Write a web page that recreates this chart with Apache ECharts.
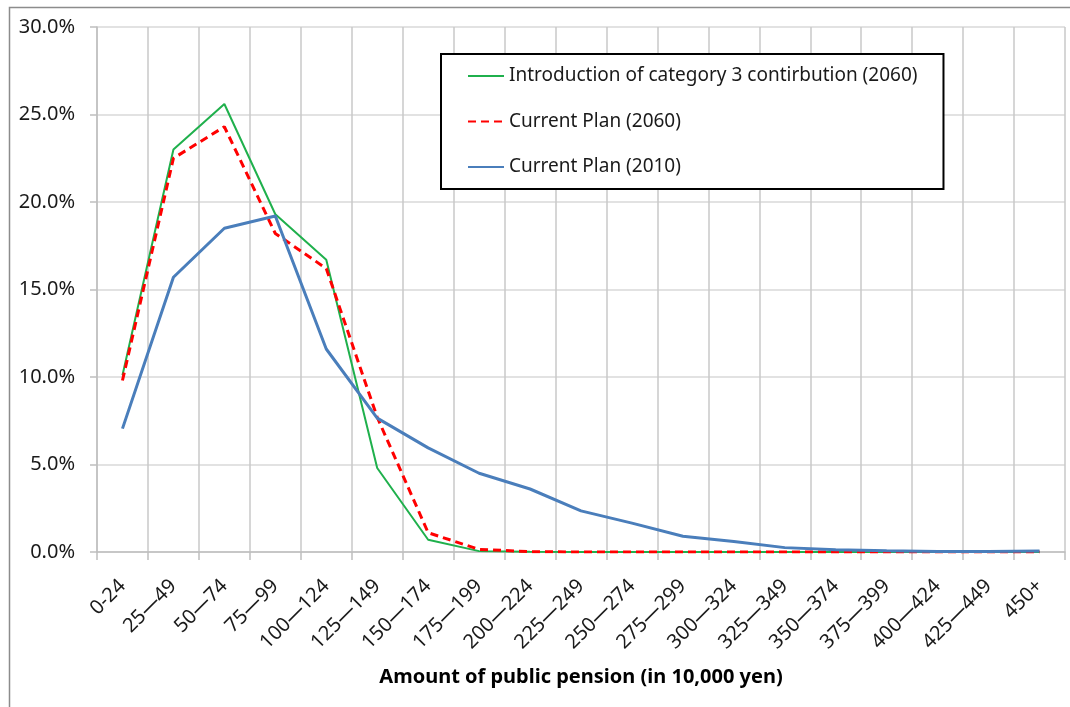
<!DOCTYPE html>
<html>
<head>
<meta charset="utf-8">
<script src="https://cdn.jsdelivr.net/npm/echarts@6/dist/echarts.min.js"></script>
<style>
html,body{margin:0;padding:0;background:#fff;}
#chart{width:1070px;height:707px;}
</style>
</head>
<body>
<div id="chart"></div>
<script>
const categories = ['0-24','25―49','50―74','75―99','100―124','125―149','150―174','175―199','200―224','225―249','250―274','275―299','300―324','325―349','350―374','375―399','400―424','425―449','450+'];
const seriesNames = ['Introduction of category 3 contirbution (2060)','Current Plan (2060)','Current Plan (2010)'];
const category3_2060 = [10.1, 23.0, 25.6, 19.3, 16.7, 4.8, 0.7, 0.05, 0.01, 0, 0, 0, 0, 0, 0, 0, 0, 0, 0];
const currentPlan2060 = [9.8, 22.5, 24.3, 18.2, 16.2, 7.7, 1.1, 0.15, 0.02, 0, 0, 0, 0, 0, 0, 0, 0, 0, 0];
const currentPlan2010 = [7.05, 15.7, 18.5, 19.2, 11.6, 7.65, 5.95, 4.5, 3.6, 2.35, 1.65, 0.9, 0.6, 0.25, 0.13, 0.07, 0.03, 0.03, 0.06];
const yTicks = {min: 0, max: 30, interval: 5};

const FONT = 'Noto Sans';
const chart = echarts.init(document.getElementById('chart'), null, {renderer: 'canvas'});
chart.setOption({
  backgroundColor: '#ffffff',
  animation: false,
  graphic: [{
    type: 'rect', left: 7, top: 5,
    shape: {width: 1200, height: 900},
    style: {fill: 'none', stroke: '#8c8c8c', lineWidth: 1.5},
    silent: true, z: -10
  }],
  grid: {left: 97, right: 5, top: 27, bottom: 155, containLabel: false},
  legend: {
    orient: 'vertical',
    left: 441, top: 54,
    padding: [11.5, 26, 11.5, 26],
    borderColor: '#000', borderWidth: 2,
    backgroundColor: '#fff',
    itemWidth: 36, itemHeight: 14, itemGap: 24.5,
    itemStyle: {color: 'rgba(0,0,0,0)', borderColor: 'rgba(0,0,0,0)', borderWidth: 0},
    textStyle: {fontFamily: FONT, fontSize: 19, color: '#1a1a1a', lineHeight: 21},
    data: seriesNames
  },
  xAxis: {
    type: 'category',
    data: categories,
    boundaryGap: true,
    axisLine: {show: true, lineStyle: {color: '#bfbfbf', width: 1.5}},
    axisTick: {show: true, length: 8, inside: false, lineStyle: {color: '#bfbfbf', width: 1.5}},
    axisLabel: {rotate: 45, margin: 31, fontFamily: FONT, fontSize: 20, color: '#1a1a1a', interval: 0},
    splitLine: {show: true, lineStyle: {color: '#c8c8c8', width: 1.5}},
    name: 'Amount of public pension (in 10,000 yen)',
    nameLocation: 'middle',
    nameGap: 115,
    nameTextStyle: {fontFamily: FONT, fontSize: 20, fontWeight: 'bold', color: '#000'}
  },
  yAxis: {
    type: 'value',
    min: yTicks.min, max: yTicks.max, interval: yTicks.interval,
    axisLine: {show: true, lineStyle: {color: '#bfbfbf', width: 1.5}},
    axisTick: {show: true, length: 7, lineStyle: {color: '#bfbfbf', width: 1.5}},
    axisLabel: {margin: 22, fontFamily: FONT, fontSize: 20, color: '#1a1a1a', formatter: v => v.toFixed(1) + '%'},
    splitLine: {show: true, lineStyle: {color: '#d9d9d9', width: 1.5}}
  },
  series: [
    {name: seriesNames[0], type: 'line', data: category3_2060, symbol: 'none',
     lineStyle: {color: '#1fb04c', width: 2}, itemStyle: {color: '#1fb04c'}},
    {name: seriesNames[1], type: 'line', data: currentPlan2060, symbol: 'none',
     lineStyle: {color: '#ff0000', width: 3, type: [8, 5]}, itemStyle: {color: '#ff0000'}},
    {name: seriesNames[2], type: 'line', data: currentPlan2010, symbol: 'none',
     lineStyle: {color: '#4a7ebb', width: 3}, itemStyle: {color: '#4a7ebb'}}
  ]
});
</script>
</body>
</html>
